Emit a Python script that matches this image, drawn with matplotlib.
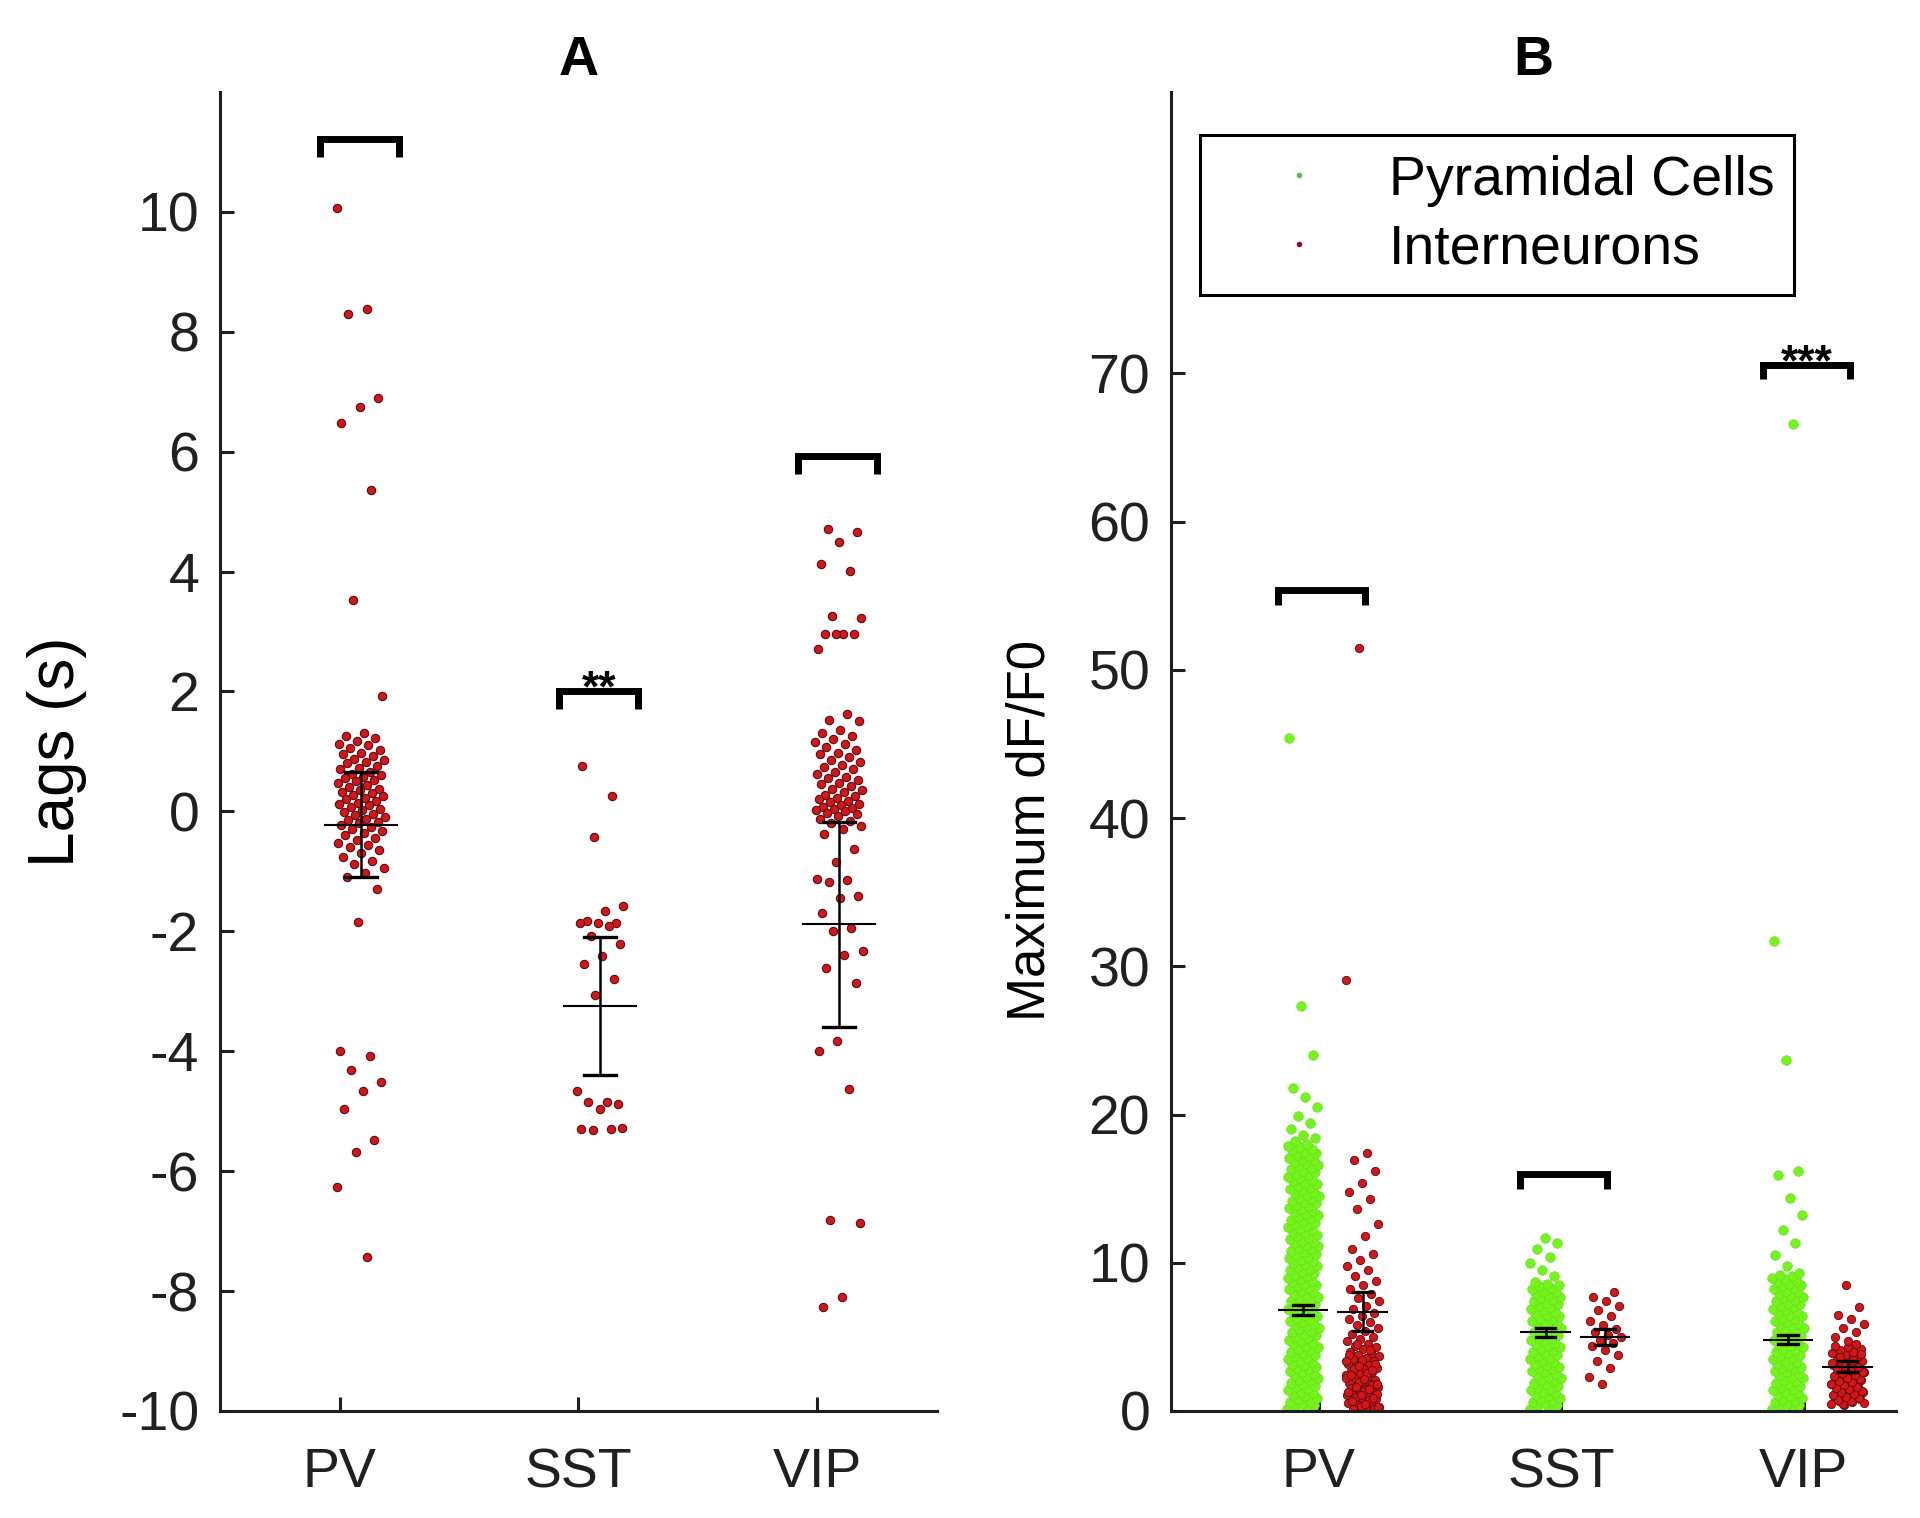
import numpy as np
import matplotlib.pyplot as plt
from matplotlib.lines import Line2D

plt.rcParams['font.family'] = ['Liberation Sans', 'DejaVu Sans']
plt.rcParams['axes.unicode_minus'] = False

groups = ['PV', 'SST', 'VIP']

# ---- panel A: lags (s) of interneurons ----
lag_pv = [10.06, 8.37, 8.30, 6.90, 6.74, 6.48, 5.36, 3.52, 1.93,
          1.30, 1.25, 1.22, 1.18, 1.12, 1.10, 1.05, 1.02, 0.98, 0.95, 0.92, 0.88,
          0.85, 0.82, 0.80, 0.76, 0.72, 0.70, 0.66, 0.63, 0.60, 0.58, 0.55, 0.52,
          0.50, 0.47, 0.44, 0.41, 0.38, 0.36, 0.33, 0.30, 0.28, 0.25, 0.22, 0.20,
          0.17, 0.14, 0.12, 0.10, 0.07, 0.04, 0.02, -0.01, -0.04, -0.06, -0.09,
          -0.12, -0.15, -0.18, -0.20, -0.23, -0.26, -0.30, -0.33, -0.36, -0.40,
          -0.44, -0.48, -0.52, -0.56, -0.60, -0.65, -0.70, -0.76, -0.82, -0.88,
          -0.95, -1.02, -1.10,
          -1.30, -1.85, -4.00, -4.08, -4.32, -4.52, -4.66, -4.97, -5.48, -5.68,
          -6.27, -7.43]
lag_sst = [0.75, 0.25, -0.42, -1.58, -1.66, -1.83, -1.86, -1.86, -1.86, -1.91,
           -2.08, -2.21, -2.41, -2.55, -2.80, -3.06, -4.66, -4.84, -4.84, -4.88,
           -4.96, -5.30, -5.30, -5.32, -5.28]
lag_vip = [4.71, 4.66, 4.49, 4.13, 4.01, 3.25, 3.23, 2.96, 2.96, 2.96, 2.96,
           2.71, 1.63, 1.53, 1.50,
           1.35, 1.30, 1.26, 1.20, 1.15, 1.12, 1.08, 1.02, 0.98, 0.95, 0.90, 0.86,
           0.82, 0.78, 0.74, 0.70, 0.66, 0.62, 0.58, 0.55, 0.52, 0.48, 0.45, 0.42,
           0.38, 0.35, 0.32, 0.28, 0.25, 0.22, 0.20, 0.17, 0.15, 0.12, 0.10, 0.08,
           0.06, 0.04, 0.02, 0.00, -0.02, -0.05, -0.08, -0.12, -0.16, -0.20, -0.25,
           -0.30, -0.37, -0.63, -0.85, -1.13, -1.15, -1.18, -1.41, -1.45, -1.70,
           -1.95, -2.00, -2.33, -2.40, -2.61, -2.86, -3.83, -3.99, -4.63, -6.82,
           -6.86, -8.10, -8.27]
lag_mean = [-0.22, -3.24, -1.88]
lag_err = [0.88, 1.15, 1.71]
lag_bracket = [11.22, 2.0, 5.93]
lag_sig = ['', '**', '']

# ---- panel B: maximum dF/F0 ----
pyr_pv = [0.1, 0.2, 0.3, 0.4, 0.5, 0.6, 0.7, 0.8, 0.9, 1.0, 1.1, 1.2, 1.3, 1.4, 1.5,
          1.6, 1.7, 1.8, 1.9, 2.0, 2.1, 2.2, 2.3, 2.4, 2.5, 2.6, 2.7, 2.8, 2.9, 3.0,
          3.1, 3.2, 3.3, 3.4, 3.5, 3.6, 3.7, 3.8, 3.9, 4.0, 4.1, 4.2, 4.3, 4.4, 4.5,
          4.6, 4.7, 4.8, 4.9, 5.0, 5.1, 5.2, 5.3, 5.4, 5.5, 5.6, 5.7, 5.8, 5.9, 6.0,
          6.1, 6.2, 6.3, 6.4, 6.5, 6.6, 6.7, 6.8, 6.9, 7.0, 7.1, 7.2, 7.3, 7.4, 7.5,
          7.6, 7.7, 7.8, 7.9, 8.0, 8.1, 8.2, 8.3, 8.4, 8.5, 8.6, 8.7, 8.8, 8.9, 9.0,
          9.1, 9.2, 9.3, 9.4, 9.5, 9.6, 9.7, 9.8, 9.9, 10.0, 10.1, 10.2, 10.3, 10.4,
          10.5, 10.6, 10.7, 10.8, 10.9, 11.0, 11.1, 11.2, 11.3, 11.4, 11.5, 11.6,
          11.7, 11.8, 11.9, 12.0, 12.1, 12.2, 12.3, 12.4, 12.5, 12.6, 12.7, 12.8,
          12.9, 13.0, 13.1, 13.2, 13.3, 13.4, 13.5, 13.6, 13.7, 13.8, 13.9, 14.0,
          14.1, 14.2, 14.3, 14.4, 14.5, 14.6, 14.7, 14.8, 14.9, 15.0, 15.1, 15.2,
          15.3, 15.4, 15.5, 15.6, 15.7, 15.8, 15.9, 16.0, 16.1, 16.2, 16.3, 16.4,
          16.5, 16.6, 16.7, 16.8, 16.9, 17.0, 17.1, 17.2, 17.3, 17.4, 17.5, 17.6,
          17.7, 17.8, 17.9, 18.0, 18.2, 18.4, 18.6,
          19.0, 19.4, 19.9, 20.5, 21.2, 21.8, 24.0, 27.3, 45.4]
int_pv = [51.5, 29.1, 17.4, 16.9, 16.2, 15.4, 14.8, 14.3, 13.6, 12.6, 11.8, 10.9,
          10.6, 10.2, 9.8, 9.5, 9.1, 8.8, 8.5, 8.2, 7.9, 7.6, 7.4, 7.1, 6.9, 6.6,
          6.4, 6.2, 6.0, 5.8, 5.6, 5.4, 5.2, 5.0, 4.85, 4.7, 4.55, 4.4, 4.3, 4.15,
          4.0, 3.9, 3.8, 3.7, 3.6, 3.5, 3.4, 3.3, 3.2, 3.1, 3.0, 2.9, 2.8, 2.7, 2.6,
          2.5, 2.4, 2.3, 2.2, 2.1, 2.0, 1.9, 1.8, 1.7, 1.6, 1.5, 1.4, 1.3, 1.2, 1.1,
          1.0, 0.9, 0.8, 0.7, 0.6, 0.5, 0.4, 0.3, 0.2, 0.1,
          0.15, 0.35, 0.55, 0.75, 0.95, 1.15, 1.35, 1.55, 1.75, 1.95, 2.25, 2.55,
          2.85, 3.15, 3.45, 3.75, 4.1, 4.5, 0.25, 0.45, 0.65, 0.85, 1.05, 1.25,
          1.45, 1.65, 1.85, 2.15, 2.45, 2.75, 3.05, 3.35]
pyr_sst = [0.1, 0.2, 0.3, 0.4, 0.5, 0.6, 0.7, 0.8, 0.9, 1.0, 1.1, 1.2, 1.3, 1.4,
           1.5, 1.6, 1.7, 1.8, 1.9, 2.0, 2.1, 2.2, 2.3, 2.4, 2.5, 2.6, 2.7, 2.8,
           2.9, 3.0, 3.1, 3.2, 3.3, 3.4, 3.5, 3.6, 3.7, 3.8, 3.9, 4.0, 4.1, 4.2,
           4.3, 4.4, 4.5, 4.6, 4.7, 4.8, 4.9, 5.0, 5.1, 5.2, 5.3, 5.4, 5.5, 5.6,
           5.7, 5.8, 5.9, 6.0, 6.1, 6.2, 6.3, 6.4, 6.5, 6.6, 6.7, 6.8, 6.9, 7.0,
           7.1, 7.2, 7.3, 7.4, 7.5, 7.6, 7.7, 7.8, 7.9, 8.0, 8.1, 8.2, 8.3, 8.4,
           8.5, 8.6, 8.7, 9.1, 9.5, 10.0, 10.4, 10.9, 11.3, 11.7]
int_sst = [1.8, 2.3, 2.9, 3.4, 3.8, 4.1, 4.4, 4.6, 4.8, 5.0, 5.1, 5.3, 5.5, 5.8,
           6.1, 6.4, 6.8, 7.1, 7.4, 7.7, 8.0]
pyr_vip = [0.1, 0.2, 0.3, 0.4, 0.5, 0.6, 0.7, 0.8, 0.9, 1.0, 1.1, 1.2, 1.3, 1.4,
           1.5, 1.6, 1.7, 1.8, 1.9, 2.0, 2.1, 2.2, 2.3, 2.4, 2.5, 2.6, 2.7, 2.8,
           2.9, 3.0, 3.1, 3.2, 3.3, 3.4, 3.5, 3.6, 3.7, 3.8, 3.9, 4.0, 4.1, 4.2,
           4.3, 4.4, 4.5, 4.6, 4.7, 4.8, 4.9, 5.0, 5.1, 5.2, 5.3, 5.4, 5.5, 5.6,
           5.7, 5.8, 5.9, 6.0, 6.1, 6.2, 6.3, 6.4, 6.5, 6.6, 6.7, 6.8, 6.9, 7.0,
           7.1, 7.2, 7.3, 7.4, 7.5, 7.6, 7.7, 7.8, 7.9, 8.0, 8.1, 8.2, 8.3, 8.4,
           8.5, 8.6, 8.7, 8.8, 8.9, 9.0, 9.1, 9.2, 9.3,
           9.8, 10.5, 11.3, 12.2, 13.2, 14.4, 15.9, 16.2, 23.7, 31.7, 66.6]
int_vip = [0.4, 0.5, 0.6, 0.7, 0.8, 0.9, 1.0, 1.1, 1.2, 1.3, 1.4, 1.5, 1.6, 1.7,
           1.8, 1.9, 2.0, 2.1, 2.2, 2.3, 2.4, 2.5, 2.6, 2.7, 2.8, 2.9, 3.0, 3.1,
           3.2, 3.3, 3.4, 3.5, 3.6, 3.7, 3.8, 3.9, 4.0, 4.1, 4.2, 4.3, 4.4, 4.5,
           0.45, 0.55, 0.65, 0.75, 0.85, 0.95, 1.05, 1.15, 1.25, 1.35, 1.45, 1.55,
           1.65, 1.75, 1.85, 1.95, 2.05, 2.15, 2.25, 2.35, 2.45, 2.55, 2.65, 2.75,
           2.85, 2.95, 3.05, 3.25, 3.45, 3.65, 3.85,
           4.7, 5.0, 5.3, 5.6, 5.9, 6.2, 6.5, 7.0, 8.5]
pyr_mean = [6.8, 5.3, 4.8]
pyr_err = [0.35, 0.3, 0.3]
int_mean = [6.7, 5.0, 3.0]
int_err = [1.3, 0.55, 0.35]
dff_bracket = [55.4, 16.0, 70.6]
dff_sig = ['', '', '***']

RED = '#d41616'
RED_EDGE = '#5a0c16'
GREEN = '#74f41a'
GREEN_EDGE = '#6ad428'
AXC = '#1e1e1e'


def spread(n, left, width, phase=0.0):
    # deterministic horizontal scatter of the dots inside a column
    return left + width * ((np.arange(n) * 0.618034 + phase) % 1.0)


def mean_bar(ax, x, m, e, half, cap):
    ax.plot([x, x], [m - e, m + e], color='k', lw=1.8, zorder=4)
    ax.plot([x - cap, x + cap], [m - e, m - e], color='k', lw=2.4, zorder=4)
    ax.plot([x - cap, x + cap], [m + e, m + e], color='k', lw=2.4, zorder=4)
    ax.plot([x - half, x + half], [m, m], color='k', lw=1.5, zorder=4)


def bracket(ax, x0, x1, y, d, sig, offset):
    ax.plot([x0, x0, x1, x1], [y - d, y, y, y - d], color='k', lw=5,
            solid_joinstyle='miter', solid_capstyle='butt', zorder=4)
    if sig:
        ax.annotate(sig, ((x0 + x1) / 2, y), xytext=(0, offset),
                    textcoords='offset points', ha='center', va='baseline',
                    fontsize=32, fontweight='bold')


def style(ax):
    for s in ['top', 'right']:
        ax.spines[s].set_visible(False)
    for s in ['left', 'bottom']:
        ax.spines[s].set_linewidth(2.2)
        ax.spines[s].set_color(AXC)
    ax.tick_params(direction='in', length=10, width=2.2, colors=AXC,
                   labelsize=40, labelcolor='#202020')
    ax.tick_params(axis='x', pad=26)
    ax.tick_params(axis='y', pad=15)


fig = plt.figure(figsize=(19.2, 15.18), dpi=100)
axA = fig.add_axes([0.1146, 0.0705, 0.3734, 0.869])
axB = fig.add_axes([0.6099, 0.0705, 0.3776, 0.869])

# panel A
for i, vals in enumerate([lag_pv, lag_sst, lag_vip]):
    x = i + 1
    axA.scatter(spread(len(vals), x - 0.01, 0.2, 0.13 * i), vals, s=36,
                c=RED, edgecolors=RED_EDGE, linewidths=0.8, zorder=2)
    mean_bar(axA, x + 0.09, lag_mean[i], lag_err[i], 0.15, 0.065)
    bracket(axA, x - 0.08, x + 0.25, lag_bracket[i], 0.3, lag_sig[i], -7)

axA.set_xlim(0.5, 3.5)
axA.set_ylim(-10, 12)
axA.set_yticks(range(-10, 11, 2))
axA.set_xticks([1, 2, 3])
axA.set_xticklabels(groups)
axA.set_ylabel('Lags (s)', fontsize=46)
axA.yaxis.set_label_coords(-0.185, 0.5)
axA.set_title('A', fontsize=40, fontweight='bold', pad=12)
style(axA)

# panel B
for i, (pv, iv) in enumerate(zip([pyr_pv, pyr_sst, pyr_vip],
                                 [int_pv, int_sst, int_vip])):
    x = i + 1
    axB.scatter(spread(len(pv), x - 0.13, 0.13), pv, s=48, c=GREEN,
                edgecolors=GREEN_EDGE, linewidths=0.4, zorder=2)
    axB.scatter(spread(len(iv), x + 0.11, 0.14, 0.4), iv, s=36, c=RED,
                edgecolors=RED_EDGE, linewidths=0.6, zorder=2)
    mean_bar(axB, x - 0.065, pyr_mean[i], pyr_err[i], 0.1, 0.04)
    mean_bar(axB, x + 0.18, int_mean[i], int_err[i], 0.1, 0.04)
    bracket(axB, x - 0.17, x + 0.19, dff_bracket[i], 1.0, dff_sig[i], -8)

axB.set_xlim(0.39, 3.38)
axB.set_ylim(0, 89)
axB.set_yticks(range(0, 71, 10))
axB.set_xticks([1, 2, 3])
axB.set_xticklabels(groups)
axB.set_ylabel('Maximum dF/F0', fontsize=38)
axB.yaxis.set_label_coords(-0.16, 0.44)
axB.set_title('B', fontsize=40, fontweight='bold', pad=12)
style(axB)

handles = [Line2D([], [], ls='none', marker='.', markersize=6, color='#4fc04f'),
           Line2D([], [], ls='none', marker='.', markersize=6, color='#8a1030')]
leg = axB.legend(handles, ['Pyramidal Cells', 'Interneurons'], loc='upper left',
                 bbox_to_anchor=(0.04, 0.967), borderaxespad=0, fontsize=40,
                 handlelength=2.85, handletextpad=0.2, borderpad=0.35,
                 labelspacing=0.3, fancybox=False, edgecolor='k', framealpha=1)
leg.get_frame().set_linewidth(2.2)

fig.savefig('out.png', dpi=100)
